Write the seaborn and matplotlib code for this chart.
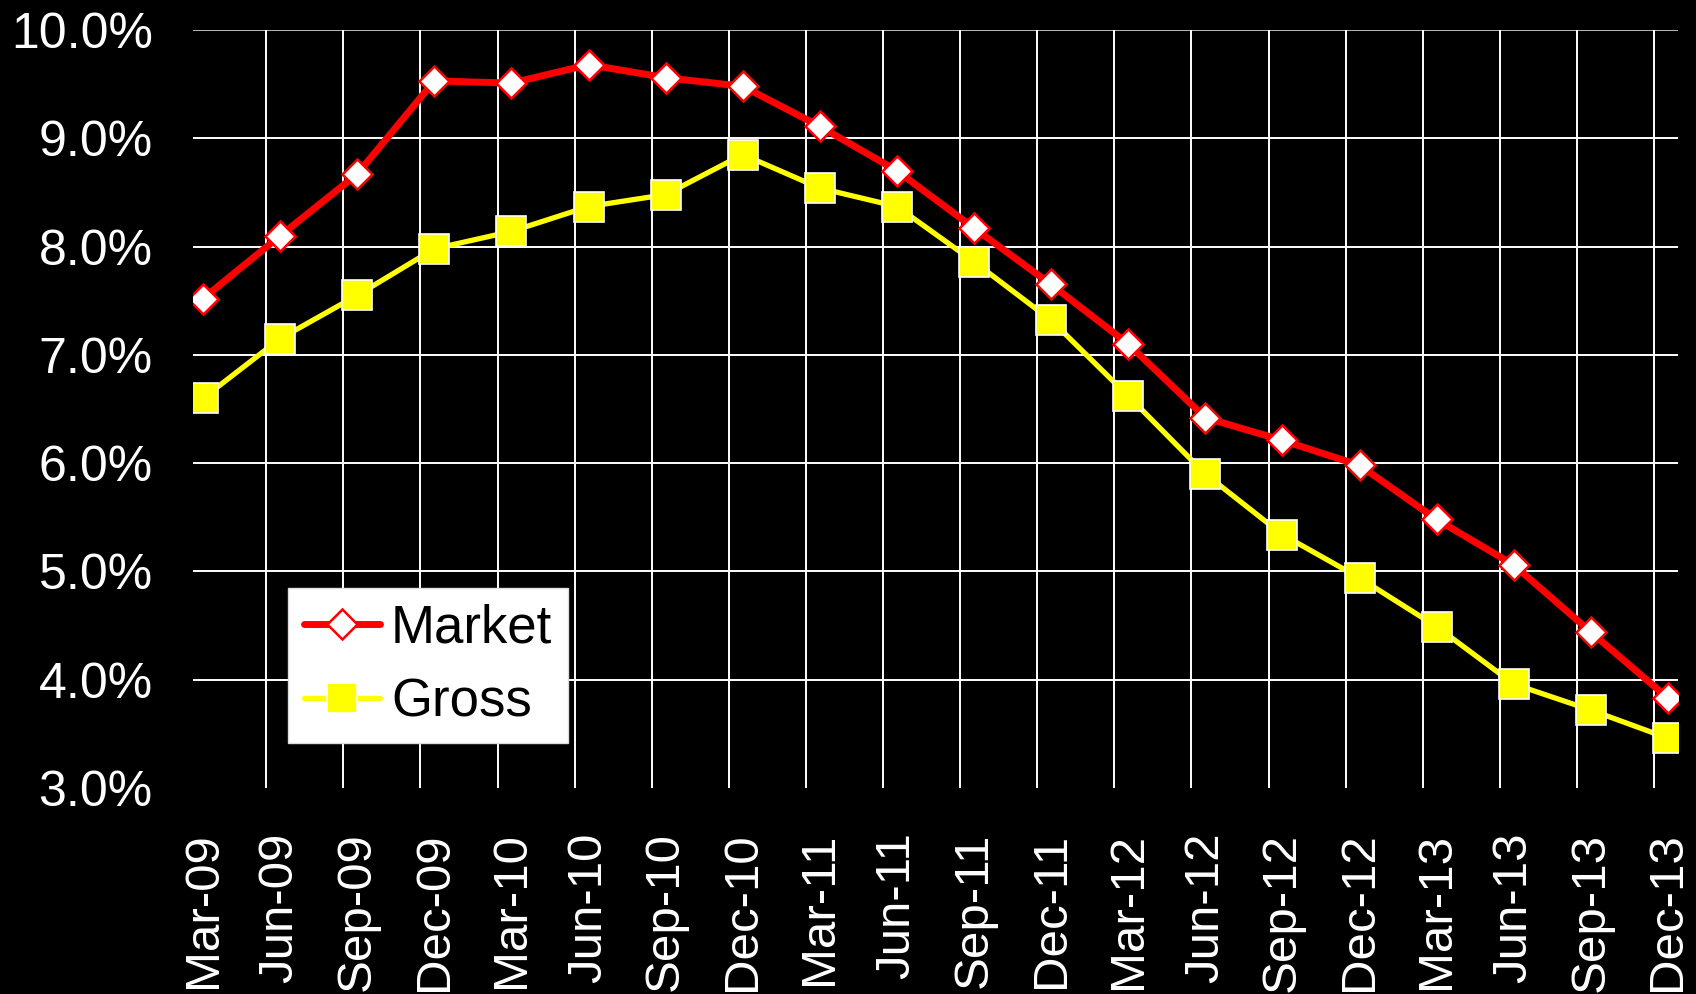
import numpy as np
import matplotlib
matplotlib.use("Agg")
import matplotlib.pyplot as plt
import seaborn as sns
from matplotlib.ticker import FuncFormatter, FixedLocator

quarters = ["Mar-09", "Jun-09", "Sep-09", "Dec-09", "Mar-10", "Jun-10", "Sep-10",
            "Dec-10", "Mar-11", "Jun-11", "Sep-11", "Dec-11", "Mar-12", "Jun-12",
            "Sep-12", "Dec-12", "Mar-13", "Jun-13", "Sep-13", "Dec-13"]
market = [7.52, 8.10, 8.67, 9.53, 9.51, 9.68, 9.56, 9.48, 9.11, 8.70,
          8.17, 7.65, 7.10, 6.42, 6.21, 5.98, 5.48, 5.06, 4.44, 3.83]
gross = [6.60, 7.15, 7.55, 7.98, 8.14, 8.37, 8.48, 8.85, 8.54, 8.37,
         7.86, 7.32, 6.62, 5.90, 5.34, 4.94, 4.49, 3.96, 3.72, 3.46]
y_ticks = [3, 4, 5, 6, 7, 8, 9, 10]

sns.set_style("dark")
plt.rcParams["font.family"] = ["Liberation Sans", "DejaVu Sans"]

fig = plt.figure(figsize=(16.96, 9.94), dpi=100, facecolor="black")
ax = fig.add_axes([0.1138, 0.2072, 0.8756, 0.7626])
ax.set_facecolor("black")

idx = np.arange(len(quarters))

# gridlines (vertical ones sit a little left of each category, like the original)
for yv in y_ticks[1:]:
    ax.axhline(yv, color="#bbbbbb" if yv == 10 else "white", lw=1.4, zorder=1)
for i in idx[1:]:
    ax.axvline(i - 0.18, color="white", lw=1.4, zorder=1)

sns.lineplot(x=idx, y=market, ax=ax, color="red", lw=5, marker="D",
             markersize=15.5, markerfacecolor="white", markeredgecolor="red",
             markeredgewidth=1.8, label="Market", zorder=4)
sns.lineplot(x=idx, y=gross, ax=ax, color="yellow", lw=3.8, marker="s",
             markersize=22, markerfacecolor="yellow", markeredgecolor="white",
             markeredgewidth=1.2, label="Gross", zorder=3)

ax.set_xlim(-0.13, 19.13)
ax.set_ylim(3, 10)
ax.set_xticks(idx)
ax.set_xticklabels(quarters, rotation=90, color="white", fontsize=35.5)
ax.yaxis.set_major_locator(FixedLocator(y_ticks))
ax.yaxis.set_major_formatter(FuncFormatter(lambda v, p: f"{v:.1f}%"))
ax.tick_params(axis="y", colors="white", labelsize=36, length=0, pad=29)
ax.tick_params(axis="x", length=0, pad=32)
ax.grid(False)
for s in ax.spines.values():
    s.set_visible(False)
ax.set_xlabel("")
ax.set_ylabel("")

leg = ax.legend(loc="lower left", bbox_to_anchor=(0.064, 0.059), fontsize=38,
                frameon=True, fancybox=False, handlelength=1.45,
                handletextpad=0.2, labelspacing=0.45, borderpad=0.3,
                borderaxespad=0)
leg.get_frame().set_facecolor("white")
leg.get_frame().set_edgecolor("#dddddd")
leg.get_frame().set_alpha(1)
for t in leg.get_texts():
    t.set_color("black")

fig.savefig("out.png", dpi=100, facecolor="black")
